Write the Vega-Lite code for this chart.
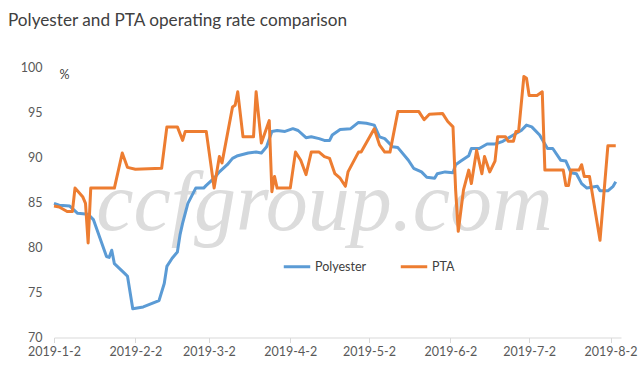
{
  "$schema": "https://vega.github.io/schema/vega-lite/v6.json",
  "width": 567,
  "height": 270,
  "autosize": {"type": "none"},
  "padding": {"left": 54, "top": 67.5, "right": 23, "bottom": 40.5},
  "background": "white",
  "title": {"text": "Polyester and PTA operating rate comparison", "anchor": "start", "frame": "group", "dx": -46, "font": "Lato", "fontSize": 17.2, "fontWeight": "normal", "color": "#404040", "offset": 32},
  "config": {"view": {"stroke": null}, "font": "Lato"},
  "layer": [
    {
      "data": {"values": [{"label": "ccfgroup.com"}]},
      "mark": {"type": "text", "font": "Liberation Serif", "fontStyle": "italic", "fontSize": 84, "color": "#dcdcdc", "baseline": "alphabetic", "align": "center"},
      "encoding": {
        "x": {"datum": {"year": 2019, "month": 4, "date": 15, "utc": true}, "type": "temporal"},
        "y": {"datum": 82.0, "type": "quantitative"},
        "text": {"field": "label", "type": "nominal"}
      }
    },
    {
      "data": {"values": [
        {"date": "2019-01-02", "series": "Polyester", "value": 84.9},
        {"date": "2019-01-04", "series": "Polyester", "value": 84.7},
        {"date": "2019-01-08", "series": "Polyester", "value": 84.6},
        {"date": "2019-01-11", "series": "Polyester", "value": 83.8},
        {"date": "2019-01-15", "series": "Polyester", "value": 83.7},
        {"date": "2019-01-17", "series": "Polyester", "value": 83.1},
        {"date": "2019-01-22", "series": "Polyester", "value": 79.0},
        {"date": "2019-01-23", "series": "Polyester", "value": 78.9},
        {"date": "2019-01-24", "series": "Polyester", "value": 79.7},
        {"date": "2019-01-25", "series": "Polyester", "value": 78.2},
        {"date": "2019-01-29", "series": "Polyester", "value": 77.1},
        {"date": "2019-01-30", "series": "Polyester", "value": 76.8},
        {"date": "2019-02-01", "series": "Polyester", "value": 73.2},
        {"date": "2019-02-05", "series": "Polyester", "value": 73.4},
        {"date": "2019-02-11", "series": "Polyester", "value": 74.1},
        {"date": "2019-02-13", "series": "Polyester", "value": 76.0},
        {"date": "2019-02-14", "series": "Polyester", "value": 77.9},
        {"date": "2019-02-16", "series": "Polyester", "value": 78.8},
        {"date": "2019-02-18", "series": "Polyester", "value": 79.5},
        {"date": "2019-02-19", "series": "Polyester", "value": 81.4},
        {"date": "2019-02-20", "series": "Polyester", "value": 82.7},
        {"date": "2019-02-22", "series": "Polyester", "value": 84.9},
        {"date": "2019-02-25", "series": "Polyester", "value": 86.6},
        {"date": "2019-02-28", "series": "Polyester", "value": 86.6},
        {"date": "2019-03-01", "series": "Polyester", "value": 86.9},
        {"date": "2019-03-04", "series": "Polyester", "value": 87.7},
        {"date": "2019-03-06", "series": "Polyester", "value": 88.4},
        {"date": "2019-03-09", "series": "Polyester", "value": 89.2},
        {"date": "2019-03-11", "series": "Polyester", "value": 89.9},
        {"date": "2019-03-13", "series": "Polyester", "value": 90.2},
        {"date": "2019-03-17", "series": "Polyester", "value": 90.5},
        {"date": "2019-03-20", "series": "Polyester", "value": 90.6},
        {"date": "2019-03-22", "series": "Polyester", "value": 90.5},
        {"date": "2019-03-24", "series": "Polyester", "value": 91.2},
        {"date": "2019-03-26", "series": "Polyester", "value": 92.9},
        {"date": "2019-03-28", "series": "Polyester", "value": 93.0},
        {"date": "2019-03-31", "series": "Polyester", "value": 92.9},
        {"date": "2019-04-03", "series": "Polyester", "value": 93.2},
        {"date": "2019-04-05", "series": "Polyester", "value": 93.0},
        {"date": "2019-04-08", "series": "Polyester", "value": 92.2},
        {"date": "2019-04-10", "series": "Polyester", "value": 92.3},
        {"date": "2019-04-13", "series": "Polyester", "value": 92.1},
        {"date": "2019-04-15", "series": "Polyester", "value": 91.9},
        {"date": "2019-04-17", "series": "Polyester", "value": 91.9},
        {"date": "2019-04-18", "series": "Polyester", "value": 92.5},
        {"date": "2019-04-21", "series": "Polyester", "value": 93.1},
        {"date": "2019-04-25", "series": "Polyester", "value": 93.2},
        {"date": "2019-04-28", "series": "Polyester", "value": 93.9},
        {"date": "2019-05-01", "series": "Polyester", "value": 93.8},
        {"date": "2019-05-04", "series": "Polyester", "value": 93.6},
        {"date": "2019-05-06", "series": "Polyester", "value": 92.3},
        {"date": "2019-05-08", "series": "Polyester", "value": 92.1},
        {"date": "2019-05-11", "series": "Polyester", "value": 91.2},
        {"date": "2019-05-13", "series": "Polyester", "value": 91.1},
        {"date": "2019-05-17", "series": "Polyester", "value": 89.7},
        {"date": "2019-05-19", "series": "Polyester", "value": 88.8},
        {"date": "2019-05-22", "series": "Polyester", "value": 88.4},
        {"date": "2019-05-24", "series": "Polyester", "value": 87.8},
        {"date": "2019-05-27", "series": "Polyester", "value": 87.7},
        {"date": "2019-05-28", "series": "Polyester", "value": 88.2},
        {"date": "2019-05-31", "series": "Polyester", "value": 88.4},
        {"date": "2019-06-03", "series": "Polyester", "value": 88.3},
        {"date": "2019-06-04", "series": "Polyester", "value": 89.2},
        {"date": "2019-06-06", "series": "Polyester", "value": 89.6},
        {"date": "2019-06-09", "series": "Polyester", "value": 90.2},
        {"date": "2019-06-10", "series": "Polyester", "value": 91.0},
        {"date": "2019-06-13", "series": "Polyester", "value": 91.0},
        {"date": "2019-06-16", "series": "Polyester", "value": 91.5},
        {"date": "2019-06-19", "series": "Polyester", "value": 91.5},
        {"date": "2019-06-22", "series": "Polyester", "value": 91.8},
        {"date": "2019-06-26", "series": "Polyester", "value": 92.5},
        {"date": "2019-06-29", "series": "Polyester", "value": 93.0},
        {"date": "2019-07-01", "series": "Polyester", "value": 93.6},
        {"date": "2019-07-03", "series": "Polyester", "value": 93.4},
        {"date": "2019-07-06", "series": "Polyester", "value": 92.5},
        {"date": "2019-07-09", "series": "Polyester", "value": 91.0},
        {"date": "2019-07-11", "series": "Polyester", "value": 91.0},
        {"date": "2019-07-14", "series": "Polyester", "value": 89.7},
        {"date": "2019-07-16", "series": "Polyester", "value": 89.6},
        {"date": "2019-07-18", "series": "Polyester", "value": 88.3},
        {"date": "2019-07-20", "series": "Polyester", "value": 88.2},
        {"date": "2019-07-22", "series": "Polyester", "value": 87.1},
        {"date": "2019-07-24", "series": "Polyester", "value": 86.6},
        {"date": "2019-07-28", "series": "Polyester", "value": 86.8},
        {"date": "2019-07-29", "series": "Polyester", "value": 86.3},
        {"date": "2019-08-01", "series": "Polyester", "value": 86.3},
        {"date": "2019-08-03", "series": "Polyester", "value": 86.8},
        {"date": "2019-08-04", "series": "Polyester", "value": 87.3},
        {"date": "2019-01-02", "series": "PTA", "value": 84.6},
        {"date": "2019-01-04", "series": "PTA", "value": 84.5},
        {"date": "2019-01-07", "series": "PTA", "value": 84.0},
        {"date": "2019-01-09", "series": "PTA", "value": 84.0},
        {"date": "2019-01-10", "series": "PTA", "value": 86.6},
        {"date": "2019-01-13", "series": "PTA", "value": 85.6},
        {"date": "2019-01-14", "series": "PTA", "value": 84.9},
        {"date": "2019-01-15", "series": "PTA", "value": 80.5},
        {"date": "2019-01-16", "series": "PTA", "value": 86.6},
        {"date": "2019-01-25", "series": "PTA", "value": 86.6},
        {"date": "2019-01-28", "series": "PTA", "value": 90.5},
        {"date": "2019-01-30", "series": "PTA", "value": 88.9},
        {"date": "2019-02-02", "series": "PTA", "value": 88.7},
        {"date": "2019-02-12", "series": "PTA", "value": 88.8},
        {"date": "2019-02-14", "series": "PTA", "value": 93.4},
        {"date": "2019-02-18", "series": "PTA", "value": 93.4},
        {"date": "2019-02-20", "series": "PTA", "value": 91.9},
        {"date": "2019-02-21", "series": "PTA", "value": 92.9},
        {"date": "2019-03-01", "series": "PTA", "value": 92.9},
        {"date": "2019-03-04", "series": "PTA", "value": 86.6},
        {"date": "2019-03-06", "series": "PTA", "value": 90.1},
        {"date": "2019-03-07", "series": "PTA", "value": 89.4},
        {"date": "2019-03-11", "series": "PTA", "value": 95.6},
        {"date": "2019-03-12", "series": "PTA", "value": 95.8},
        {"date": "2019-03-13", "series": "PTA", "value": 97.3},
        {"date": "2019-03-15", "series": "PTA", "value": 92.3},
        {"date": "2019-03-19", "series": "PTA", "value": 92.3},
        {"date": "2019-03-20", "series": "PTA", "value": 97.3},
        {"date": "2019-03-22", "series": "PTA", "value": 91.6},
        {"date": "2019-03-25", "series": "PTA", "value": 94.1},
        {"date": "2019-03-26", "series": "PTA", "value": 86.2},
        {"date": "2019-03-27", "series": "PTA", "value": 87.9},
        {"date": "2019-03-28", "series": "PTA", "value": 86.6},
        {"date": "2019-04-02", "series": "PTA", "value": 86.6},
        {"date": "2019-04-04", "series": "PTA", "value": 90.6},
        {"date": "2019-04-06", "series": "PTA", "value": 89.7},
        {"date": "2019-04-08", "series": "PTA", "value": 88.1},
        {"date": "2019-04-10", "series": "PTA", "value": 90.6},
        {"date": "2019-04-13", "series": "PTA", "value": 90.6},
        {"date": "2019-04-15", "series": "PTA", "value": 90.1},
        {"date": "2019-04-17", "series": "PTA", "value": 89.9},
        {"date": "2019-04-19", "series": "PTA", "value": 88.2},
        {"date": "2019-04-21", "series": "PTA", "value": 87.7},
        {"date": "2019-04-23", "series": "PTA", "value": 86.8},
        {"date": "2019-04-24", "series": "PTA", "value": 88.4},
        {"date": "2019-04-28", "series": "PTA", "value": 90.6},
        {"date": "2019-04-29", "series": "PTA", "value": 90.6},
        {"date": "2019-05-04", "series": "PTA", "value": 93.2},
        {"date": "2019-05-06", "series": "PTA", "value": 91.4},
        {"date": "2019-05-08", "series": "PTA", "value": 90.6},
        {"date": "2019-05-10", "series": "PTA", "value": 90.6},
        {"date": "2019-05-13", "series": "PTA", "value": 95.1},
        {"date": "2019-05-21", "series": "PTA", "value": 95.1},
        {"date": "2019-05-23", "series": "PTA", "value": 94.2},
        {"date": "2019-05-25", "series": "PTA", "value": 94.8},
        {"date": "2019-05-30", "series": "PTA", "value": 94.9},
        {"date": "2019-06-01", "series": "PTA", "value": 94.0},
        {"date": "2019-06-03", "series": "PTA", "value": 93.4},
        {"date": "2019-06-04", "series": "PTA", "value": 86.4},
        {"date": "2019-06-05", "series": "PTA", "value": 81.8},
        {"date": "2019-06-07", "series": "PTA", "value": 86.4},
        {"date": "2019-06-09", "series": "PTA", "value": 88.6},
        {"date": "2019-06-10", "series": "PTA", "value": 87.1},
        {"date": "2019-06-12", "series": "PTA", "value": 90.8},
        {"date": "2019-06-14", "series": "PTA", "value": 88.2},
        {"date": "2019-06-15", "series": "PTA", "value": 90.1},
        {"date": "2019-06-17", "series": "PTA", "value": 88.4},
        {"date": "2019-06-19", "series": "PTA", "value": 89.6},
        {"date": "2019-06-20", "series": "PTA", "value": 92.3},
        {"date": "2019-06-23", "series": "PTA", "value": 92.3},
        {"date": "2019-06-24", "series": "PTA", "value": 91.8},
        {"date": "2019-06-26", "series": "PTA", "value": 91.8},
        {"date": "2019-06-27", "series": "PTA", "value": 92.9},
        {"date": "2019-06-28", "series": "PTA", "value": 92.9},
        {"date": "2019-06-30", "series": "PTA", "value": 99.0},
        {"date": "2019-07-01", "series": "PTA", "value": 98.8},
        {"date": "2019-07-02", "series": "PTA", "value": 96.9},
        {"date": "2019-07-05", "series": "PTA", "value": 96.9},
        {"date": "2019-07-07", "series": "PTA", "value": 97.3},
        {"date": "2019-07-08", "series": "PTA", "value": 88.6},
        {"date": "2019-07-15", "series": "PTA", "value": 88.6},
        {"date": "2019-07-16", "series": "PTA", "value": 86.9},
        {"date": "2019-07-17", "series": "PTA", "value": 86.9},
        {"date": "2019-07-18", "series": "PTA", "value": 88.6},
        {"date": "2019-07-21", "series": "PTA", "value": 88.6},
        {"date": "2019-07-22", "series": "PTA", "value": 89.2},
        {"date": "2019-07-23", "series": "PTA", "value": 87.9},
        {"date": "2019-07-25", "series": "PTA", "value": 87.9},
        {"date": "2019-07-29", "series": "PTA", "value": 80.8},
        {"date": "2019-08-01", "series": "PTA", "value": 91.3},
        {"date": "2019-08-04", "series": "PTA", "value": 91.3}
      ]},
      "mark": {"type": "line", "strokeWidth": 3, "strokeJoin": "round"},
      "encoding": {
        "x": {
          "field": "date", "type": "temporal",
          "scale": {"type": "utc", "domain": [{"year": 2019, "month": 1, "date": 2, "utc": true}, {"year": 2019, "month": 8, "date": 6, "utc": true}]},
          "axis": {
            "title": null,
            "values": [
              {"year": 2019, "month": 1, "date": 2, "utc": true},
              {"year": 2019, "month": 2, "date": 2, "utc": true},
              {"year": 2019, "month": 3, "date": 2, "utc": true},
              {"year": 2019, "month": 4, "date": 2, "utc": true},
              {"year": 2019, "month": 5, "date": 2, "utc": true},
              {"year": 2019, "month": 6, "date": 2, "utc": true},
              {"year": 2019, "month": 7, "date": 2, "utc": true},
              {"year": 2019, "month": 8, "date": 2, "utc": true}
            ],
            "labelExpr": "utcFormat(datum.value, '%Y-%-m-%-d')",
            "labelFont": "Lato", "labelFontSize": 12.5, "labelColor": "#595959",
            "domainColor": "#d9d9d9", "tickColor": "#d9d9d9", "tickSize": 5,
            "labelPadding": 3, "grid": false, "labelFlush": false, "labelOverlap": false
          }
        },
        "y": {
          "field": "value", "type": "quantitative",
          "scale": {"domain": [70, 100], "nice": false, "zero": false},
          "axis": {
            "title": "%", "titleAngle": 0, "titleX": 5, "titleY": 7, "titleAlign": "left", "titleBaseline": "middle",
            "titleFont": "Lato", "titleFontSize": 12.5, "titleFontWeight": "normal", "titleColor": "#404040",
            "values": [70, 75, 80, 85, 90, 95, 100],
            "domain": false, "ticks": false, "tickSize": 0, "grid": false,
            "labelFont": "Lato", "labelFontSize": 12.5, "labelColor": "#595959", "labelPadding": 12
          }
        },
        "color": {
          "field": "series", "type": "nominal",
          "scale": {"domain": ["Polyester", "PTA"], "range": ["#5B9BD5", "#ED7D31"]},
          "legend": {
            "title": null, "orient": "none", "direction": "horizontal", "legendX": 228, "legendY": 184,
            "padding": 0, "symbolType": "stroke", "symbolSize": 700, "symbolStrokeWidth": 3,
            "labelFont": "Lato", "labelFontSize": 12.5, "labelColor": "#404040", "labelOffset": 3,
            "columnPadding": 27
          }
        }
      }
    }
  ]
}
